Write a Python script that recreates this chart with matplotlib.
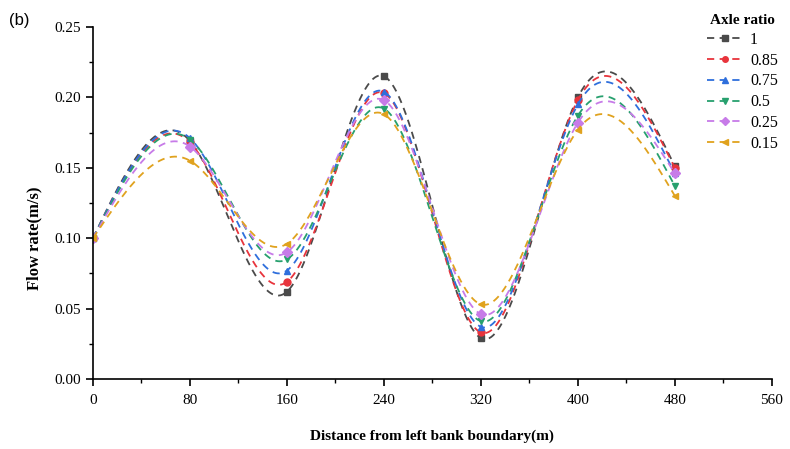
import numpy as np
import matplotlib.pyplot as plt
from matplotlib.ticker import MultipleLocator

# Dados
distancia = [0, 80, 160, 240, 320, 400, 480]
razoes = ["1", "0.85", "0.75", "0.5", "0.25", "0.15"]
v_1 = [0.100, 0.169, 0.062, 0.215, 0.029, 0.200, 0.151]
v_085 = [0.100, 0.168, 0.069, 0.203, 0.033, 0.198, 0.150]
v_075 = [0.100, 0.171, 0.077, 0.204, 0.037, 0.195, 0.146]
v_05 = [0.100, 0.170, 0.085, 0.192, 0.041, 0.187, 0.137]
v_025 = [0.100, 0.165, 0.090, 0.198, 0.046, 0.182, 0.146]
v_015 = [0.100, 0.155, 0.096, 0.188, 0.053, 0.177, 0.130]
series = [v_1, v_085, v_075, v_05, v_025, v_015]

cores = ["#4a4a4a", "#e8343c", "#2f6fdc", "#27a06e", "#c77be8", "#e0a21e"]
marcadores = ["s", "o", "^", "v", "D", "<"]


# Spline cúbica natural (sem scipy)
def spline_natural(x, y, xs):
    x = np.asarray(x, float)
    y = np.asarray(y, float)
    n = len(x)
    h = np.diff(x)
    A = np.zeros((n, n))
    b = np.zeros(n)
    A[0, 0] = 1
    A[-1, -1] = 1
    for i in range(1, n - 1):
        A[i, i - 1] = h[i - 1]
        A[i, i] = 2 * (h[i - 1] + h[i])
        A[i, i + 1] = h[i]
        b[i] = 3 * ((y[i + 1] - y[i]) / h[i] - (y[i] - y[i - 1]) / h[i - 1])
    c = np.linalg.solve(A, b)
    ys = np.zeros_like(xs)
    for i in range(n - 1):
        m = (xs >= x[i]) & (xs <= x[i + 1])
        bi = (y[i + 1] - y[i]) / h[i] - h[i] * (2 * c[i] + c[i + 1]) / 3
        di = (c[i + 1] - c[i]) / (3 * h[i])
        t = xs[m] - x[i]
        ys[m] = y[i] + bi * t + c[i] * t ** 2 + di * t ** 3
    return ys


plt.rcParams["font.family"] = ["Liberation Serif", "DejaVu Serif"]

fig = plt.figure(figsize=(7.9, 4.49), dpi=100)
ax = fig.add_axes([0.1177, 0.156, 0.8593, 0.784])

xs = np.linspace(0, 480, 600)
for vals, lab, cor, mk in zip(series, razoes, cores, marcadores):
    ys = spline_natural(distancia, vals, xs)
    ax.plot(xs, ys, color=cor, linestyle=(0, (4, 3)), linewidth=1.3)
    ax.plot(distancia, vals, linestyle="none", marker=mk, color=cor, markersize=5)
    # entrada da legenda
    ax.plot([], [], color=cor, linestyle=(0, (4, 3)), linewidth=1.3, marker=mk,
            markersize=4, label=lab)

ax.set_xlim(0, 560)
ax.set_ylim(0, 0.25)
ax.xaxis.set_major_locator(MultipleLocator(80))
ax.xaxis.set_minor_locator(MultipleLocator(40))
ax.yaxis.set_major_locator(MultipleLocator(0.05))
ax.yaxis.set_minor_locator(MultipleLocator(0.025))
ax.yaxis.set_major_formatter(plt.FuncFormatter(lambda v, p: f"{v:.2f}"))

for lado in ["top", "right"]:
    ax.spines[lado].set_visible(False)
ax.spines["left"].set_linewidth(1.2)
ax.spines["bottom"].set_linewidth(1.2)
ax.tick_params(which="major", direction="out", length=5, width=1.2, labelsize=11)
ax.tick_params(which="minor", direction="out", length=3, width=1.0)
ax.tick_params(axis="x", pad=6)

ax.set_xlabel("Distance from left bank boundary(m)", fontsize=11, fontweight="bold", labelpad=16)
ax.set_ylabel("Flow rate(m/s)", fontsize=12, fontweight="bold")
ax.yaxis.set_label_coords(-0.074, 0.40)

fig.text(0.012, 0.945, "(b)", fontsize=12, family="Liberation Sans")

leg = ax.legend(title="Axle ratio", loc="upper left", bbox_to_anchor=(0.895, 1.055),
                frameon=False, fontsize=11.5, handlelength=2.2, labelspacing=0.3,
                handletextpad=0.5, borderaxespad=0)
leg.get_title().set_fontweight("bold")
leg.get_title().set_fontsize(11)

fig.savefig("out.png", dpi=100)
